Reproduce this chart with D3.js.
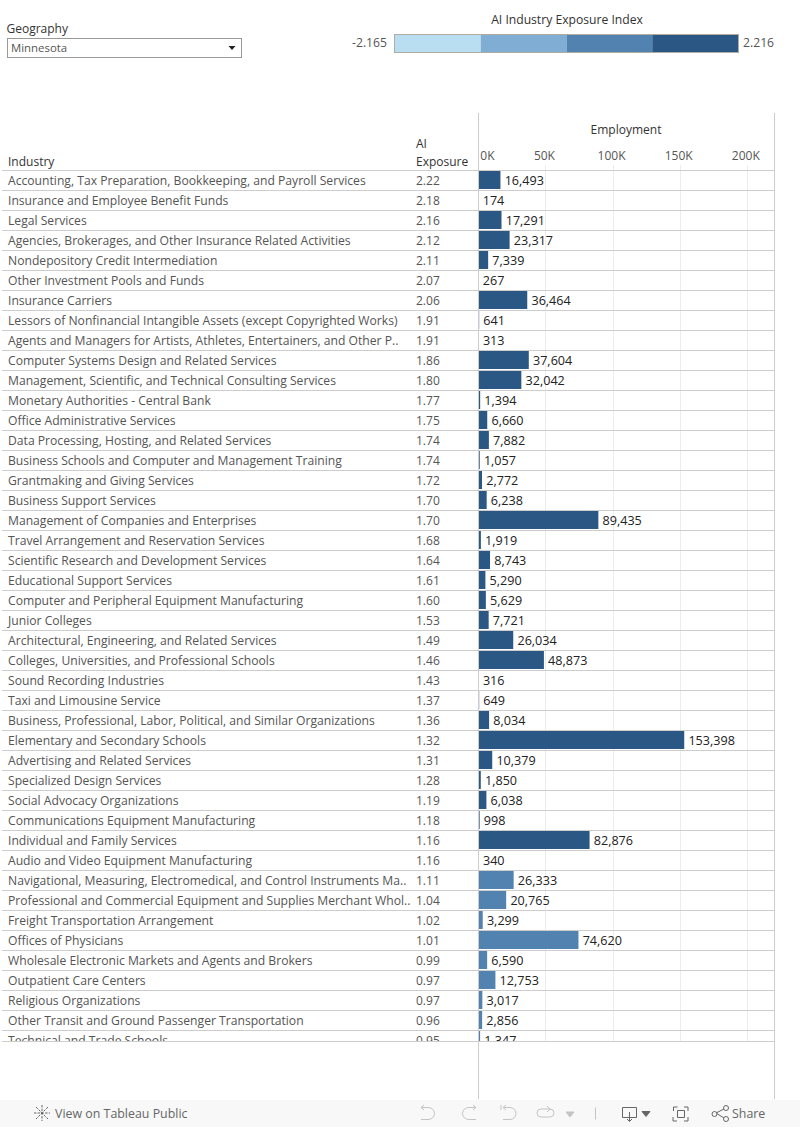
<!DOCTYPE html>
<html><head><meta charset="utf-8">
<script src="https://cdn.jsdelivr.net/npm/d3@7"></script>
<style>html,body{margin:0;padding:0;background:#fff}svg{display:block}text{font-family:"Open Sans",sans-serif;}</style>
</head><body><svg id="c" width="800" height="1127"></svg>
<script>
const industries=["Accounting, Tax Preparation, Bookkeeping, and Payroll Services","Insurance and Employee Benefit Funds","Legal Services","Agencies, Brokerages, and Other Insurance Related Activities","Nondepository Credit Intermediation","Other Investment Pools and Funds","Insurance Carriers","Lessors of Nonfinancial Intangible Assets (except Copyrighted Works)","Agents and Managers for Artists, Athletes, Entertainers, and Other P..","Computer Systems Design and Related Services","Management, Scientific, and Technical Consulting Services","Monetary Authorities - Central Bank","Office Administrative Services","Data Processing, Hosting, and Related Services","Business Schools and Computer and Management Training","Grantmaking and Giving Services","Business Support Services","Management of Companies and Enterprises","Travel Arrangement and Reservation Services","Scientific Research and Development Services","Educational Support Services","Computer and Peripheral Equipment Manufacturing","Junior Colleges","Architectural, Engineering, and Related Services","Colleges, Universities, and Professional Schools","Sound Recording Industries","Taxi and Limousine Service","Business, Professional, Labor, Political, and Similar Organizations","Elementary and Secondary Schools","Advertising and Related Services","Specialized Design Services","Social Advocacy Organizations","Communications Equipment Manufacturing","Individual and Family Services","Audio and Video Equipment Manufacturing","Navigational, Measuring, Electromedical, and Control Instruments Ma..","Professional and Commercial Equipment and Supplies Merchant Whol..","Freight Transportation Arrangement","Offices of Physicians","Wholesale Electronic Markets and Agents and Brokers","Outpatient Care Centers","Religious Organizations","Other Transit and Ground Passenger Transportation","Technical and Trade Schools"];
const exposure=[2.22,2.18,2.16,2.12,2.11,2.07,2.06,1.91,1.91,1.86,1.80,1.77,1.75,1.74,1.74,1.72,1.70,1.70,1.68,1.64,1.61,1.60,1.53,1.49,1.46,1.43,1.37,1.36,1.32,1.31,1.28,1.19,1.18,1.16,1.16,1.11,1.04,1.02,1.01,0.99,0.97,0.97,0.96,0.95];
const employment=[16493,174,17291,23317,7339,267,36464,641,313,37604,32042,1394,6660,7882,1057,2772,6238,89435,1919,8743,5290,5629,7721,26034,48873,316,649,8034,153398,10379,1850,6038,998,82876,340,26333,20765,3299,74620,6590,12753,3017,2856,1347];
const axisTicks=[0,50000,100000,150000,200000];
const legendColors=["#b9ddf1","#7fadd3","#5282b0","#2a5783"];
const legendDomain=[-2.165,2.216];

const svg=d3.select("#c");
const F='"Open Sans",sans-serif', dark="#333", mid="#555", rule="#cdcdcd";
const x=d3.scaleLinear().domain([0,200000]).range([478.3,746.8]);
const y=d3.scaleBand().domain(d3.range(industries.length)).range([171,171+20*industries.length]).paddingInner(0);
const color=d3.scaleQuantize().domain(legendDomain).range(legendColors);
const fmt=d3.format(",");
const T=(s,px,py,size,fill,anchor,weight)=>svg.append("text").attr("x",px).attr("y",py).attr("font-size",size).attr("fill",fill).attr("text-anchor",anchor||"start").attr("font-weight",weight||400).text(s);

// filter
T("Geography",6.5,33,12,dark);
svg.append("rect").attr("x",7.5).attr("y",38.5).attr("width",234).attr("height",19).attr("fill","#fff").attr("stroke","#999");
T("Minnesota",11,52,11.4,mid);
svg.append("path").attr("d","M228.5,46 h7 l-3.5,4 z").attr("fill","#222");

// legend
T("AI Industry Exposure Index",567,24,12.15,dark,"middle");
T("-2.165",387,47,12.2,mid,"end");
T("2.216",743,47,12.2,mid);
const lx=d3.scaleLinear().domain(legendDomain).range([395,738]);
const seg=(legendDomain[1]-legendDomain[0])/legendColors.length;
svg.append("g").selectAll("rect").data(legendColors).join("rect")
 .attr("x",(d,i)=>lx(legendDomain[0]+i*seg)).attr("width",(d,i)=>lx(legendDomain[0]+(i+1)*seg)-lx(legendDomain[0]+i*seg))
 .attr("y",35).attr("height",17).attr("fill",d=>d);
svg.append("rect").attr("x",394.5).attr("y",34.5).attr("width",344).attr("height",18).attr("fill","none").attr("stroke","#b0aca0");

// header
T("Industry",8,166,12,dark);
T("AI",416,148,12,dark);
T("Exposure",416,166,12,dark);
T("Employment",626,134,12,dark,"middle");

// clipped body
svg.append("defs").append("clipPath").attr("id","body").append("rect").attr("x",0).attr("y",171).attr("width",800).attr("height",870);
// grid
svg.append("g").selectAll("line").data(axisTicks.slice(1)).join("line")
 .attr("x1",d=>Math.round(x(d))+.5).attr("x2",d=>Math.round(x(d))+.5).attr("y1",165).attr("y2",1041).attr("stroke","#ececec");
const body=svg.append("g").attr("clip-path","url(#body)");
const rows=body.selectAll("g").data(industries).join("g").attr("transform",(d,i)=>`translate(0,${y(i)})`);
rows.append("text").attr("x",8).attr("y",14).attr("font-size",12.15).attr("fill",mid).text(d=>d);
rows.append("text").attr("x",416).attr("y",14).attr("font-size",12).attr("fill",mid).text((d,i)=>exposure[i].toFixed(2));
rows.append("rect").attr("x",x(0)).attr("y",0).attr("height",18).attr("width",(d,i)=>x(employment[i])-x(0)).attr("fill",(d,i)=>color(exposure[i]));
rows.append("text").attr("x",(d,i)=>x(employment[i])+4.2).attr("y",14).attr("font-size",12.6).attr("fill","#222").text((d,i)=>fmt(employment[i]));
// row rules
svg.append("g").selectAll("line").data(d3.range(industries.length).filter(i=>y(i)-.5<1041)).join("line")
 .attr("x1",2).attr("x2",774).attr("y1",i=>y(i)-.5).attr("y2",i=>y(i)-.5).attr("stroke",rule);
svg.append("line").attr("x1",2).attr("x2",774).attr("y1",1041.5).attr("y2",1041.5).attr("stroke",rule);
// axis ticks via d3 axis
const ax=svg.append("g").attr("transform","translate(0,160)").call(d3.axisTop(x).tickValues(axisTicks).tickFormat(d=>d/1000+"K").tickSize(0));
ax.select(".domain").remove();
ax.selectAll("text").attr("font-size",12).attr("fill",mid).attr("font-family",F).attr("y",0).attr("dy",0).attr("text-anchor","middle");
ax.selectAll("g.tick").filter(d=>d===0).select("text").attr("text-anchor","start").attr("dx",1.5);
ax.selectAll("g.tick").filter(d=>d>0).select("text").attr("dx",-1.5);
// verticals
[478.5,774.5].forEach((v,i)=>svg.append("line").attr("x1",v).attr("x2",v).attr("y1",113).attr("y2",1099).attr("stroke",rule));

// toolbar
svg.append("rect").attr("x",0).attr("y",1100).attr("width",800).attr("height",27).attr("fill","#f8f8f8");
T("View on Tableau Public",55,1118,12.4,"#666",null,500);
T("Share",732,1118,12.4,"#666",null,500);
const ic="#666",ig="#c4c4c4";
const P=(d,c,f)=>svg.append("path").attr("d",d).attr("stroke",c).attr("fill",f||"none").attr("stroke-width",1);
P("M42,1105V1121M34,1113H50M36,1107L48,1119M48,1107L36,1119",ic).attr("stroke-dasharray","2.5 1.2");
P("M421,1107.5h7a6,5.5 0 0 1 0,12h-7M421,1107.5l3,-2.5M421,1107.5l3,2.5",ig);
P("M476,1107.5h-7a6,5.5 0 0 0 0,12h7M476,1107.5l-3,-2.5M476,1107.5l-3,2.5",ig);
P("M501,1105v5M503,1107.5h7a5.5,5.5 0 0 1 0,12h-7M503,1107.5l3,-2.5M503,1107.5l3,2.5",ig);
P("M541,1109h9a3,3 0 0 1 0,8h-9a3,3 0 0 1 0,-8M547,1106l3,3l-3,3",ig);
P("M566,1112h8l-4,5z",ig,ig);
P("M595.5,1107.5v12",ig);
P("M622.5,1107.5h14v10h-14zM629.5,1112v9M627,1119l2.5,2.5l2.5,-2.5",ic);
P("M642,1111.5h8l-4,5z",ic,ic);
P("M673.5,1111v-4h4M684,1107h4v4M688,1117v4h-4M677,1121h-4v-4M677.5,1110.5h7v7h-7z",ic);
P("M724,1109L716,1113L724,1118",ic);
[[726,1108],[714.5,1114],[726,1119]].forEach(c=>svg.append("circle").attr("cx",c[0]).attr("cy",c[1]).attr("r",2.5).attr("fill","#f8f8f8").attr("stroke",ic));
</script></body></html>
